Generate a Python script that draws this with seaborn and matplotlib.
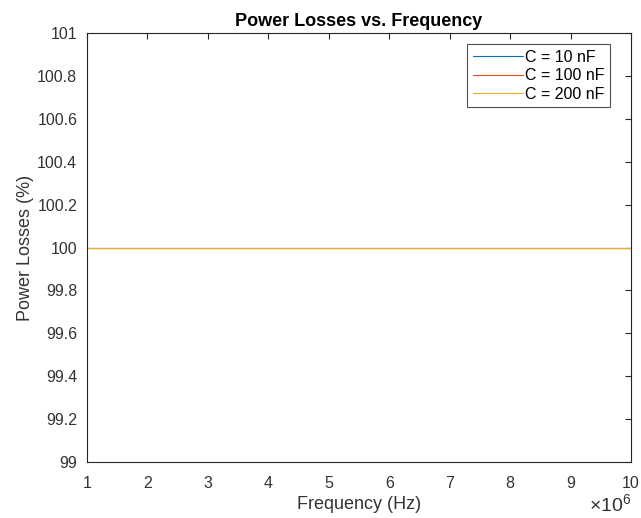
import matplotlib
matplotlib.use("Agg")
import matplotlib.pyplot as plt
import seaborn as sns
import pandas as pd
from matplotlib.ticker import FuncFormatter, MultipleLocator

# Frequency sweep (Hz) and computed power losses (%) per capacitance
frequency_hz = [1e6, 2e6, 3e6, 4e6, 5e6, 6e6, 7e6, 8e6, 9e6, 1e7]
losses_10nF = [100, 100, 100, 100, 100, 100, 100, 100, 100, 100]
losses_100nF = [100, 100, 100, 100, 100, 100, 100, 100, 100, 100]
losses_200nF = [100, 100, 100, 100, 100, 100, 100, 100, 100, 100]
series_labels = ["C = 10 nF", "C = 100 nF", "C = 200 nF"]

frames = []
for label, vals in zip(series_labels, [losses_10nF, losses_100nF, losses_200nF]):
    frames.append(pd.DataFrame({"Frequency": frequency_hz, "Losses": vals, "C": label}))
df = pd.concat(frames, ignore_index=True)

sns.set_style("white")
plt.rcParams["font.family"] = ["Liberation Sans", "DejaVu Sans"]
plt.rcParams["mathtext.fontset"] = "custom"
plt.rcParams["mathtext.rm"] = "Liberation Sans"

axis_color = "#262626"
text_color = "#333333"
palette = ["#0072BD", "#D95319", "#EDB120"]

W, H = 641, 518
left, right, top, bottom = 87, 631, 33, 462
fig = plt.figure(figsize=(W / 100, H / 100), dpi=100)
ax = fig.add_axes([left / W, (H - bottom) / H, (right - left) / W, (bottom - top) / H])

sns.lineplot(data=df, x="Frequency", y="Losses", hue="C", palette=palette,
             linewidth=0.8, ax=ax, legend=True)

ax.set_xlim(1e6, 1e7)
ax.set_ylim(99, 101)
ax.xaxis.set_major_locator(MultipleLocator(1e6))
ax.yaxis.set_major_locator(MultipleLocator(0.2))
ax.xaxis.set_major_formatter(FuncFormatter(lambda v, p: f"{v/1e6:g}"))
ax.yaxis.set_major_formatter(FuncFormatter(lambda v, p: f"{v:g}"))

for side in ["left", "right", "top", "bottom"]:
    ax.spines[side].set_visible(True)
    ax.spines[side].set_color(axis_color)
    ax.spines[side].set_linewidth(0.8)

ax.tick_params(axis="both", which="both", direction="in", length=4, width=0.8,
               colors=axis_color, labelsize=11.5, top=True, right=True,
               labelcolor=text_color)
ax.tick_params(axis="x", pad=10)
ax.tick_params(axis="y", pad=7)

ax.set_xlabel("Frequency (Hz)", fontsize=13, color=text_color, labelpad=4)
ax.set_ylabel("Power Losses (%)", fontsize=13, color=text_color, labelpad=2)
ax.set_title("Power Losses vs. Frequency", fontsize=13, fontweight="bold",
             color="black", pad=5)

# Exponent shared by the x tick labels
fig.text(right / W, 2 / H, r"$\times10^{6}$", ha="right", va="bottom",
         fontsize=14, color=text_color)

leg = ax.legend(loc="upper right",
                bbox_to_anchor=((610 - left) / (right - left), (bottom - 44) / (bottom - top)),
                borderaxespad=0, fontsize=11.5, frameon=True, fancybox=False,
                edgecolor=axis_color, handlelength=3.1, handletextpad=0.15,
                borderpad=0.35, labelspacing=0.22)
leg.get_frame().set_linewidth(0.8)
for t in leg.get_texts():
    t.set_color("black")

fig.savefig("out.png", dpi=100, facecolor="white")
